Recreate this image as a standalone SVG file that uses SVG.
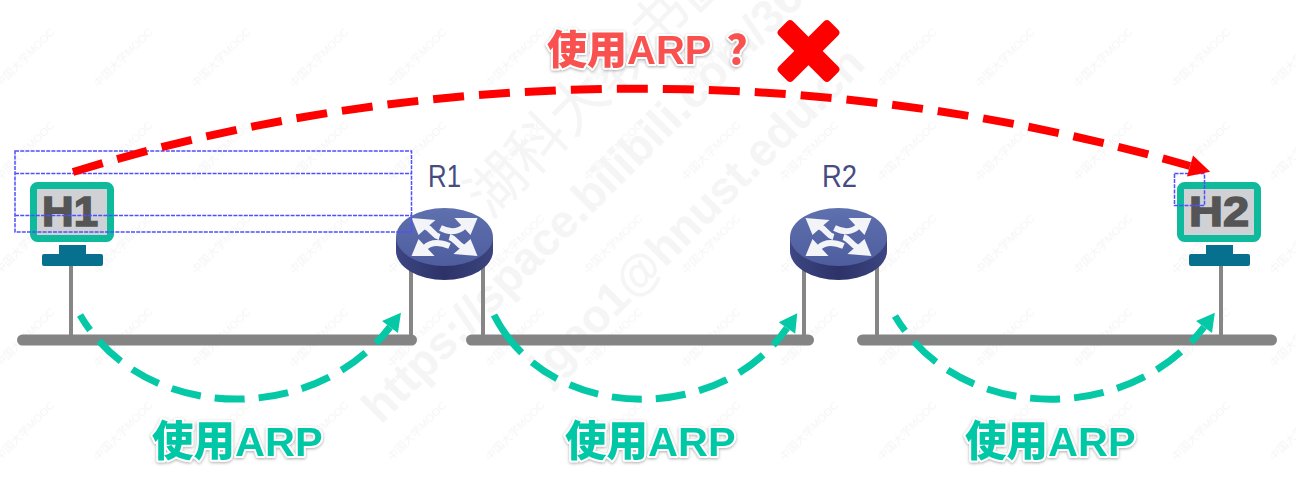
<svg xmlns="http://www.w3.org/2000/svg" width="1296" height="484" viewBox="0 0 1296 484">
<style>
.wm{font-family:"Liberation Sans","Noto Sans CJK SC",sans-serif;font-weight:700;font-size:46px;fill:#f5f5f5}
.mooc{font-family:"Liberation Sans","Noto Sans CJK SC",sans-serif;font-size:11px;fill:#f5f5f5}
.bus{stroke:#848484;stroke-width:11;stroke-linecap:round;fill:none}
.pole{stroke:#868686;stroke-width:4;fill:none}
.box{fill:none;stroke:#4f4fff;stroke-width:1.5;stroke-dasharray:4 1.2}
.scr{fill:#d0d1d5;stroke:#0fb99b;stroke-width:7}
.stand{fill:#08708f}
.hname{font-family:"Liberation Sans",sans-serif;font-weight:700;font-size:43px;fill:#555;stroke:#555;stroke-width:1.6}
.rname{font-family:"Liberation Sans",sans-serif;font-size:32px;fill:#464c80}
.lab{font-family:"Liberation Sans","Noto Sans CJK SC",sans-serif;font-weight:900;font-size:41.500px;stroke:#fff;stroke-width:4;paint-order:stroke;stroke-linejoin:round;filter:url(#sh)}
.g{fill:#04c8a6}
.r{fill:#f9514f}
.ga{fill:none;stroke:#04c8a6;stroke-width:7;stroke-dasharray:30 14;marker-end:url(#gh)}
.ra{fill:none;stroke:#f00;stroke-width:8;stroke-dasharray:31 15;marker-end:url(#rh)}
.tail{fill:none;stroke:#f2f4f8;stroke-width:6}
.head{fill:#f2f4f8}
</style>
<defs>
<pattern id="mp" x="-3" y="0" width="98" height="93.300" patternUnits="userSpaceOnUse">
<text class="mooc" transform="translate(3,88) rotate(-45)">中国大学MOOC</text>
</pattern>
<marker id="gh" markerUnits="userSpaceOnUse" markerWidth="24" markerHeight="24" refX="0" refY="10" orient="auto" overflow="visible"><path d="M0 0L18 10L0 20Z" fill="#04c8a6"/></marker>
<marker id="rh" markerUnits="userSpaceOnUse" markerWidth="26" markerHeight="26" refX="0" refY="11" orient="auto" overflow="visible"><path d="M0 0L21 11L0 22Z" fill="#f00"/></marker>
<filter id="sh" x="-10%" y="-20%" width="120%" height="140%"><feDropShadow dx="0" dy="1" stdDeviation="1.500" flood-color="#888" flood-opacity=".7"/></filter>
<linearGradient id="top" x1="0" y1="0" x2="0" y2="1"><stop offset="0" stop-color="#5f70ae"/><stop offset="1" stop-color="#4e5d9e"/></linearGradient>
<linearGradient id="side" x1="0" y1="0" x2="1" y2="0"><stop offset="0" stop-color="#3d4683"/><stop offset=".5" stop-color="#2d3368"/><stop offset="1" stop-color="#3c4580"/></linearGradient>
<g id="router">
<path d="M-48.500 0V14A48.500 29 0 0 0 48.500 14V0Z" fill="url(#side)"/>
<ellipse cx="0" cy="0" rx="48.500" ry="29" fill="url(#top)"/>
<path class="head" d="M-33-19L-9-17L-16-11L-26-2Z"/><path class="tail" d="M-20-11C-12-8-12-2-5 0"/>
<path class="head" d="M33-19L10-19L26-2Z"/><path class="tail" d="M20-11C12-3 2-6-4-9"/>
<path class="head" d="M-33 19L-10 19L-26 2Z"/><path class="tail" d="M-20 11C-12 3-2 6 5 9"/>
<path class="head" d="M33 19L9 17L26 2Z"/><path class="tail" d="M20 11C12 8 12 2 5 0"/>
</g>
<g id="pc">
<rect class="stand" x="17" y="63" width="27" height="10"/>
<rect class="stand" x="0" y="72" width="61" height="12" rx="2"/>
<rect class="scr" x="-8.500" y="3.500" width="77" height="53" rx="4"/>
</g>
</defs>
<rect width="1296" height="484" fill="#fff"/>
<g id="watermark">
<rect width="1296" height="484" fill="url(#mp)"/>
<text class="wm" transform="translate(381,425) rotate(-45)">https://space.bilibili.com/360</text>
<text class="wm" transform="translate(548,385) rotate(-45)">jgao1@hnust.edu.cn</text>
<text class="wm" style="font-size:58px;font-weight:400" transform="translate(490,220) rotate(-45)">湖科大教书匠</text>
</g>
<g id="buses">
<path class="bus" d="M22.500 340H411.500"/>
<path class="bus" d="M471.500 340H808.500"/>
<path class="bus" d="M862.500 340H1271.500"/>
</g>
<g id="H1"><path class="pole" d="M71 266V335"/><use href="#pc" x="42" y="182"/><text class="hname" x="42" y="226" textLength="56" lengthAdjust="spacingAndGlyphs">H1</text></g>
<g id="H2"><path class="pole" d="M1221 266V335"/><use href="#pc" x="1189" y="182"/><text class="hname" x="1189" y="226" textLength="60" lengthAdjust="spacingAndGlyphs">H2</text></g>
<g id="R1"><path class="pole" d="M411 270V335M483 265V335"/><use href="#router" x="444.500" y="237"/><text class="rname" x="428" y="187" textLength="33" lengthAdjust="spacingAndGlyphs">R1</text></g>
<g id="R2"><path class="pole" d="M804 270V335M877 265V335"/><use href="#router" x="838.500" y="237"/><text class="rname" x="822" y="187" textLength="35" lengthAdjust="spacingAndGlyphs">R2</text></g>
<g id="selection">
<rect class="box" x="15" y="151" width="396.500" height="81"/>
<path class="box" d="M15 173.500H411.500M15 215.500H411.500"/>
<rect class="box" x="1174.500" y="173.500" width="30" height="32"/>
</g>
<g id="connectors">
<path class="ra" d="M73 172C430 62 830 62 1190 166"/>
<path class="ga" stroke-dashoffset="12" d="M80 315C145 425 315 425 390 327"/>
<path class="ga" style="stroke-dasharray:47 14 30 14 30 14 30 14 30 14 30 14 30 14 30 14 30 14 30" d="M494 315C550 425 720 425 787 328"/>
<path class="ga" stroke-dashoffset="12" d="M895 316C960 425 1130 425 1204 327"/>
</g>
<g id="labels">
<text class="lab r" x="547" y="64" style="font-size:40px">使用ARP <tspan dx="5">？</tspan></text>
<text class="lab g" x="152" y="456">使用ARP</text>
<text class="lab g" x="565" y="456">使用ARP</text>
<text class="lab g" x="965" y="456">使用ARP</text>
</g>
<g id="cross" fill="#f00" transform="translate(808.500 51) rotate(45)">
<rect x="-36" y="-10" width="72" height="20" rx="4"/>
<rect x="-10" y="-36" width="20" height="72" rx="4"/>
</g>
</svg>
